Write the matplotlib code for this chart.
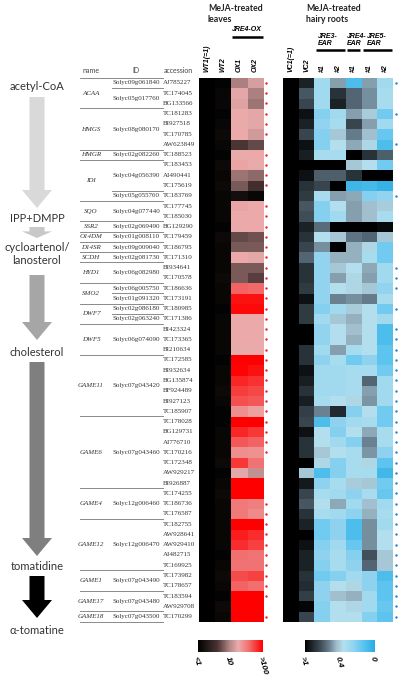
import numpy as np
import matplotlib.pyplot as plt
from matplotlib.colors import LinearSegmentedColormap, LogNorm, TwoSlopeNorm
from matplotlib.patches import FancyArrow

# ---- data ----
pathway = ['acetyl-CoA', 'IPP+DMPP', 'cycloartenol/\nlanosterol', 'cholesterol', 'tomatidine', 'α-tomatine']

genes = ['ACAA', 'HMGS', 'HMGR', 'IDI', 'SQO', 'SSR2', 'O14DM', 'D14SR', 'SCDH', 'HYD1',
         'SMO2', 'DWF7', 'DWF5', 'GAME11', 'GAME6', 'GAME4', 'GAME12', 'GAME1', 'GAME17', 'GAME18']
gene_ids = ['Solyc09g061840', 'Solyc05g017760', 'Solyc08g080170', 'Solyc02g082260', 'Solyc04g056390',
            'Solyc05g055760', 'Solyc04g077440', 'Solyc02g069490', 'Solyc01g008110', 'Solyc09g009040',
            'Solyc02g081730', 'Solyc06g082980', 'Solyc06g005750', 'Solyc01g091320', 'Solyc02g086180',
            'Solyc02g063240', 'Solyc06g074090', 'Solyc07g043420', 'Solyc07g043460', 'Solyc12g006460',
            'Solyc12g006470', 'Solyc07g043490', 'Solyc07g043480', 'Solyc07g043500']
id_gene = [0, 0, 1, 2, 3, 3, 4, 5, 6, 7, 8, 9, 10, 10, 11, 11, 12, 13, 14, 15, 16, 17, 18, 19]
id_rows = [1, 2, 4, 1, 3, 1, 2, 1, 1, 1, 1, 2, 1, 1, 1, 1, 3, 6, 7, 3, 5, 2, 2, 1]
accessions = ['AJ785227', 'TC174045', 'BG133566', 'TC181283', 'BI927518', 'TC170785', 'AW623849',
              'TC188523', 'TC183453', 'AI490441', 'TC175619', 'TC183769', 'TC177745', 'TC185030',
              'BG129290', 'TC179459', 'TC186795', 'TC171310', 'BI934641', 'TC170578', 'TC186636',
              'TC173191', 'TC180985', 'TC171386', 'BI423324', 'TC173365', 'BI210634', 'TC172585',
              'BI932634', 'BG135874', 'BF924489', 'BI927123', 'TC185907', 'TC178028', 'BG129731',
              'AI776710', 'TC170216', 'TC172348', 'AW929217', 'BI926887', 'TC174255', 'TC186736',
              'TC176587', 'TC182755', 'AW928641', 'AW929410', 'AI482715', 'TC169925', 'TC173982',
              'TC178657', 'TC183594', 'AW929708', 'TC170299']

leaf_cols = ['WT1(=1)', 'WT2', 'OX1', 'OX2']
root_cols = ['VC1(=1)', 'VC2', '#1', '#2', '#1', '#1', '#2']

# fold change, MeJA-treated leaves (WT1 = 1)
wt2 = [1.1, 1.2, 1.2, 1.1, 1.2, 1.3, 1.2, 1.1, 1.3, 1.2, 1.3, 1.2, 1.2, 1.2, 1.1, 1.3, 1.2, 1.2, 1.2, 1.3,
       1.2, 1.2, 1.1, 1.2, 1.2, 1.2, 1.2, 1.1, 1.2, 1.2, 1.3, 1.2, 1.1, 1.1, 1.2, 1.2, 1.2, 1.3, 1.1, 1.2,
       1.3, 1.2, 1.2, 1.2, 1.2, 1.2, 1.1, 1.2, 1.3, 1.2, 1.1, 1.3, 1.2]
ox1 = [9, 16, 15, 18, 17, 18, 4, 17, 19, 8, 6, 1.5, 19, 18, 18, 5, 6, 18, 6, 6,
       40, 85, 90, 18, 18, 18, 17, 150, 95, 70, 58, 48, 25, 150, 70, 45, 25, 60, 16, 150,
       150, 32, 32, 150, 75, 65, 36, 35, 50, 40, 150, 150, 150]
ox2 = [14, 9, 8, 16, 16, 13, 5, 18, 17, 7, 3.5, 1.2, 18, 18, 18, 5.5, 6, 16, 6, 4.5,
       38, 85, 90, 18, 18, 18, 18, 150, 85, 63, 52, 45, 20, 120, 60, 40, 24, 35, 11, 150,
       120, 30, 26, 150, 65, 55, 34, 35, 55, 36, 150, 150, 150]

# relative expression, MeJA-treated hairy roots (VC1 = 1)
vc2 = [0.89, 0.7, 0.76, 0.94, 0.89, 0.76, 0.94, 0.9, 1.0, 0.94, 0.83, 0.8, 0.7, 0.73, 0.89, 0.83, 0.76, 0.66, 0.83, 0.83,
       0.8, 0.94, 0.8, 0.8, 1.0, 1.0, 0.83, 0.83, 0.94, 0.9, 0.83, 0.9, 0.78, 0.76, 0.94, 0.83, 0.83, 1.0, 0.42, 0.92,
       0.76, 0.7, 0.83, 0.89, 1.0, 0.94, 0.89, 0.89, 0.83, 0.85, 0.78, 0.98, 0.76]
jre3_1 = [0.3, 0.3, 0.3, 0.22, 0.25, 0.22, 0.22, 0.32, 1.0, 0.68, 0.76, 0.33, 0.22, 0.22, 0.64, 0.36, 0.55, 0.25, 0.25, 0.25,
          0.25, 0.25, 0.22, 0.3, 0.25, 0.25, 0.3, 0.24, 0.3, 0.3, 0.3, 0.32, 0.58, 0.1, 0.36, 0.36, 0.42, 0.38, 0.1, 0.24,
          0.32, 0.36, 0.32, 0.18, 0.18, 0.22, 0.24, 0.22, 0.18, 0.24, 0.24, 0.22, 0.22]
jre3_2 = [0.52, 0.83, 0.89, 0.3, 0.32, 0.42, 0.36, 0.32, 1.0, 0.68, 1.0, 0.52, 0.36, 0.3, 1.0, 0.42, 1.0, 0.48, 0.42, 0.52,
          0.36, 0.58, 0.3, 0.42, 0.36, 0.36, 0.52, 0.32, 0.3, 0.3, 0.3, 0.36, 0.86, 0.24, 0.22, 0.3, 0.36, 0.22, 0.22, 0.32,
          0.3, 0.5, 0.3, 0.24, 0.24, 0.3, 0.32, 0.32, 0.22, 0.36, 0.45, 0.36, 0.36]
jre4_1 = [0.1, 0.66, 0.66, 0.52, 0.76, 0.6, 0.5, 1.0, 0.42, 0.83, 0.06, 0.5, 0.52, 0.52, 1.0, 0.62, 0.48, 0.48, 0.36, 0.38,
          0.38, 0.55, 0.4, 0.48, 0.45, 0.48, 0.32, 0.18, 0.32, 0.33, 0.33, 0.38, 0.22, 0.3, 0.36, 0.22, 0.32, 0.32, 0.32, 0.4,
          0.24, 0.3, 0.24, 0.1, 0.1, 0.16, 0.22, 0.24, 0.3, 0.38, 0.48, 0.38, 0.36]
jre5_1 = [0.52, 0.55, 0.55, 0.4, 0.52, 0.45, 0.38, 0.83, 0.36, 1.0, 0.08, 0.22, 0.45, 0.45, 1.0, 0.66, 0.38, 0.32, 0.5, 0.52,
          0.42, 0.6, 0.36, 0.36, 0.36, 0.36, 0.36, 0.24, 0.32, 0.66, 0.52, 0.54, 0.36, 0.32, 0.5, 0.58, 0.54, 0.38, 0.32, 0.42,
          0.32, 0.45, 0.48, 0.55, 0.55, 0.55, 0.72, 0.66, 0.24, 0.24, 0.3, 0.3, 0.22]
jre5_2 = [0.3, 0.32, 0.32, 0.18, 0.3, 0.16, 0.1, 0.68, 0.18, 1.0, 0.04, 0.25, 0.4, 0.32, 0.97, 0.42, 0.18, 0.18, 0.3, 0.3,
          0.25, 0.32, 0.18, 0.3, 0.1, 0.1, 0.14, 0.14, 0.18, 0.3, 0.3, 0.3, 0.18, 0.18, 0.32, 0.32, 0.24, 0.14, 0.07, 0.18,
          0.16, 0.3, 0.32, 0.3, 0.36, 0.36, 0.42, 0.42, 0.1, 0.14, 0.14, 0.16, 0.14]

# rows (1-based) marked as significant
red_dot_rows = [1, 2, 3, 4, 5, 6, 8, 9, 10, 11] + list(range(13, 38)) + list(range(42, 52)) + [53]
blue_dot_rows = [1, 4, 7, 12, 19, 20, 21, 23] + list(range(25, 54))

# ---- layout ----
W, H = 402, 681
fig = plt.figure(figsize=(W / 100, H / 100), dpi=100)


def px_axes(x0, y0, x1, y1):
    return fig.add_axes([x0 / W, 1 - y1 / H, (x1 - x0) / W, (y1 - y0) / H])


bg = px_axes(0, 0, W, H)
bg.set_xlim(0, W)
bg.set_ylim(H, 0)
bg.axis('off')

TOP, BOT = 77.7, 621.7
n = len(accessions)

leaf_cmap = LinearSegmentedColormap.from_list('leaf', [(0, '#000000'), (0.3, '#4a3434'), (0.5, '#b88a8a'),
                                                       (0.62, '#ebacac'), (0.78, '#f27070'), (1.0, '#ff0000')])
root_cmap = LinearSegmentedColormap.from_list('root', [(0, '#29abe2'), (0.15, '#55c2ef'), (0.3, '#8fd3f0'),
                                                       (0.45, '#b3dfee'), (0.55, '#a0bccb'), (0.65, '#6a8292'),
                                                       (0.78, '#3e4c55'), (0.9, '#1e262b'), (1.0, '#000000')])
leaf_norm = LogNorm(1, 100)
root_norm = TwoSlopeNorm(vcenter=0.4, vmin=0, vmax=1)

leaves = np.column_stack([np.ones(n), wt2, ox1, ox2])
roots = np.column_stack([np.ones(n), vc2, jre3_1, jre3_2, jre4_1, jre5_1, jre5_2])

serif = 'Liberation Serif'
sans = ['Lato', 'DejaVu Sans']
head_font = dict(family='Liberation Sans', fontweight='bold', fontstyle='italic', fontsize=5)

# left heatmap
axL = px_axes(199, TOP, 263, BOT)
imL = axL.imshow(leaves, cmap=leaf_cmap, norm=leaf_norm, aspect='auto',
                 interpolation='nearest', extent=(0, 4, n, 0))
r = np.array(red_dot_rows) - 0.5
axL.scatter(np.full(len(r), 4.2), r, s=3, color='#e8202a', clip_on=False, linewidths=0)
for j, lab in enumerate(leaf_cols):
    axL.text(j + 0.5, -0.55, lab, rotation=90, ha='center', va='bottom', **head_font)
axL.plot([2.08, 3.98], [-3.95, -3.95], color='black', lw=1.8, clip_on=False, solid_capstyle='butt')
axL.text(3.0, -4.35, 'JRE4-OX', ha='center', va='bottom', **head_font)
axL.set_xlim(0, 4)
axL.set_ylim(n, 0)
axL.axis('off')

# right heatmap
axR = px_axes(283, TOP, 393, BOT)
imR = axR.imshow(roots, cmap=root_cmap, norm=root_norm, aspect='auto',
                 interpolation='nearest', extent=(0, 7, n, 0))
b = np.array(blue_dot_rows) - 0.5
axR.scatter(np.full(len(b), 7.2), b, s=3, color='#2a7fc4', clip_on=False, linewidths=0)
for j, lab in enumerate(root_cols):
    axR.text(j + 0.5, -0.55, lab, rotation=90, ha='center', va='bottom', **head_font)
for x0, x1, tx, lab in [(2, 4, 2.25, 'JRE3-\nEAR'), (4, 5, 4.05, 'JRE4-\nEAR'), (5, 7, 5.35, 'JRE5-\nEAR')]:
    axR.plot([x0 + 0.08, x1 - 0.08], [-2.7, -2.7], color='black', lw=1.8, clip_on=False, solid_capstyle='butt')
    axR.text(tx, -3.0, lab, ha='left', va='bottom', linespacing=0.95, **head_font)
axR.set_xlim(0, 7)
axR.set_ylim(n, 0)
axR.axis('off')

# titles
bg.text(208, 4, 'MeJA-treated\nleaves', ha='left', va='top', family=sans, fontweight='bold',
        fontsize=6.3, color='#222222', linespacing=1.3)
bg.text(306, 4, 'MeJA-treated\nhairy roots', ha='left', va='top', family=sans, fontweight='bold',
        fontsize=6.3, color='#222222', linespacing=1.3)

# table
axT = px_axes(78, TOP, 199, BOT)
axT.set_xlim(78, 199)
axT.set_ylim(n, 0)
axT.axis('off')
line_kw = dict(color='#8a8a8a', lw=0.7, clip_on=False)
for x, lab in [(91, 'name'), (136, 'ID'), (178, 'accession')]:
    axT.text(x, -0.75, lab, ha='center', va='center', family=sans, fontsize=5, color='#444444')
axT.plot([80, 163], [0, 0], **line_kw)
starts = np.concatenate([[0], np.cumsum(id_rows)[:-1]])
ends = np.cumsum(id_rows)
for g, name in enumerate(genes):
    idx = [k for k in range(len(gene_ids)) if id_gene[k] == g]
    g0, g1 = starts[idx[0]], ends[idx[-1]]
    axT.text(91, (g0 + g1) / 2, name, ha='center', va='center', family=serif,
             fontstyle='italic', fontsize=5, color='#333333')
    axT.plot([80, 163], [g1, g1], **line_kw)
    for k in idx[:-1]:
        axT.plot([112, 163], [ends[k], ends[k]], **line_kw)
for k, gid in enumerate(gene_ids):
    axT.text(136, (starts[k] + ends[k]) / 2, gid, ha='center', va='center', family=serif,
             fontsize=5, color='#333333')
for i, acc in enumerate(accessions):
    axT.text(163, i + 0.5, acc, ha='left', va='center', family=serif, fontsize=5, color='#333333')

# pathway
steps = [(87, 97, 208, '#d9d9d9'), (218, 227, 238, '#c8c8c8'), (254, 275, 340, '#a6a6a6'),
         (352, 362, 556, '#7f7f7f'), (566, 576, 618, '#000000'), (630, None, None, None)]
for (ty, a0, a1, col), lab in zip(steps, pathway):
    bg.text(37, ty, lab, ha='center', va='center', family=sans, fontsize=8, color='#333333',
            linespacing=1.15)
    if a0 is not None:
        hl = min(18, (a1 - a0) * 0.6)
        bg.add_patch(FancyArrow(37, a0, 0, a1 - a0, width=15, head_width=30, head_length=hl,
                                length_includes_head=True, color=col, lw=0))

# colorbars
cL = px_axes(198, 640, 263, 652)
cbL = fig.colorbar(imL, cax=cL, orientation='horizontal', ticks=[1, 10, 100])
cbL.outline.set_visible(False)
cL.minorticks_off()
cL.set_xticks([1, 10, 100])
cL.set_xticklabels(['<1', '10', '>100'], rotation=-75, ha='left', rotation_mode='anchor',
                   fontsize=6, fontweight='bold', fontstyle='italic', family='Liberation Sans')
cL.tick_params(length=0, pad=3)

cR = px_axes(305, 640, 375, 652)
cbR = fig.colorbar(imR, cax=cR, orientation='horizontal', ticks=[1, 0.4, 0])
cbR.outline.set_visible(False)
cR.invert_xaxis()
cR.set_xticklabels(['>1', '0.4', '0'], rotation=-75, ha='left', rotation_mode='anchor',
                   fontsize=6, fontweight='bold', fontstyle='italic', family='Liberation Sans')
cR.tick_params(length=0, pad=3)

fig.savefig('out.png', dpi=100)
